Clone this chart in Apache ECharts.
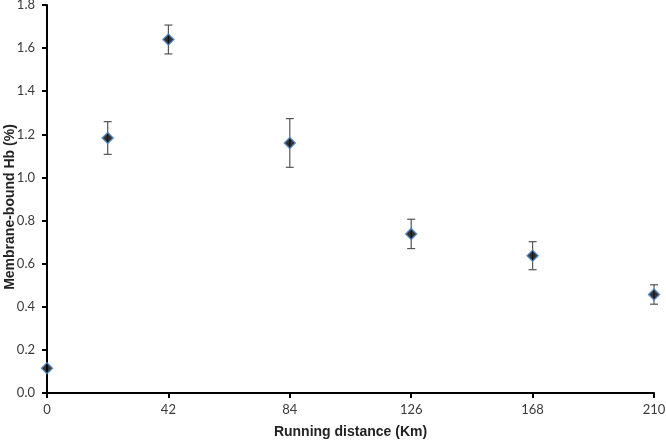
<!DOCTYPE html>
<html>
<head>
<meta charset="utf-8">
<script src="https://cdn.jsdelivr.net/npm/echarts@6/dist/echarts.min.js"></script>
<style>html,body{margin:0;padding:0;background:#fff}#c{width:666px;height:440px}</style>
</head>
<body>
<div id="c"></div>
<script>
var distances = [0, 21, 42, 84, 126, 168, 210];
var hbValues = [0.115, 1.183, 1.640, 1.160, 0.738, 0.637, 0.457];
var hbErrors = [0.0, 0.076, 0.067, 0.113, 0.068, 0.065, 0.045];
var xTicks = [0, 42, 84, 126, 168, 210];
var yTicks = [0.0, 0.2, 0.4, 0.6, 0.8, 1.0, 1.2, 1.4, 1.6, 1.8];

var chart = echarts.init(document.getElementById('c'));
var errData = distances.map(function (d, i) {
  return [d, hbValues[i] - hbErrors[i], hbValues[i] + hbErrors[i]];
});
var pts = distances.map(function (d, i) { return [d, hbValues[i]]; });

chart.setOption({
  animation: false,
  grid: { left: 47, right: 12, top: 5, bottom: 47, containLabel: false, outerBoundsMode: 'none' },
  xAxis: {
    type: 'value', min: xTicks[0], max: xTicks[xTicks.length - 1], interval: 42,
    name: 'Running distance (Km)', nameLocation: 'middle', nameGap: 32, nameMoveOverlap: false,
    nameTextStyle: { fontFamily: 'Liberation Sans', fontWeight: 'bold', fontSize: 14, color: '#222' },
    axisLine: { lineStyle: { color: '#000', width: 2 } },
    axisTick: { show: true, length: 5, lineStyle: { color: '#000', width: 2 } },
    axisLabel: { fontFamily: 'Lato', fontSize: 13, color: '#3a3a3a', margin: 10 },
    splitLine: { show: false }
  },
  yAxis: {
    type: 'value', min: yTicks[0], max: yTicks[yTicks.length - 1], interval: 0.2,
    name: 'Membrane-bound Hb (%)', nameLocation: 'middle', nameGap: 30, nameMoveOverlap: false,
    nameTextStyle: { fontFamily: 'Liberation Sans', fontWeight: 'bold', fontSize: 14, color: '#222',
      padding: [0, 16, 0, 0] },
    axisLine: { show: true, lineStyle: { color: '#000', width: 2 } },
    axisTick: { show: true, length: 5, lineStyle: { color: '#000', width: 2 } },
    axisLabel: { fontFamily: 'Lato', fontSize: 13, color: '#3a3a3a', margin: 12,
      formatter: function (v) { return v.toFixed(1); } },
    splitLine: { show: false }
  },
  series: [
    {
      type: 'custom',
      data: errData,
      z: 1,
      renderItem: function (params, api) {
        var x = api.value(0);
        var lo = api.coord([x, api.value(1)]);
        var hi = api.coord([x, api.value(2)]);
        if (Math.abs(hi[1] - lo[1]) < 1) return null;
        var w = 4;
        var st = { stroke: '#555', lineWidth: 1.2 };
        return {
          type: 'group',
          children: [
            { type: 'line', shape: { x1: lo[0], y1: lo[1], x2: hi[0], y2: hi[1] }, style: st },
            { type: 'line', shape: { x1: lo[0] - w, y1: lo[1], x2: lo[0] + w, y2: lo[1] }, style: st },
            { type: 'line', shape: { x1: hi[0] - w, y1: hi[1], x2: hi[0] + w, y2: hi[1] }, style: st }
          ]
        };
      }
    },
    {
      type: 'scatter',
      data: pts,
      z: 3,
      symbol: 'diamond',
      symbolSize: 11,
      itemStyle: { color: '#000', borderColor: '#4a86c8', borderWidth: 1.5 }
    }
  ]
});
</script>
</body>
</html>
